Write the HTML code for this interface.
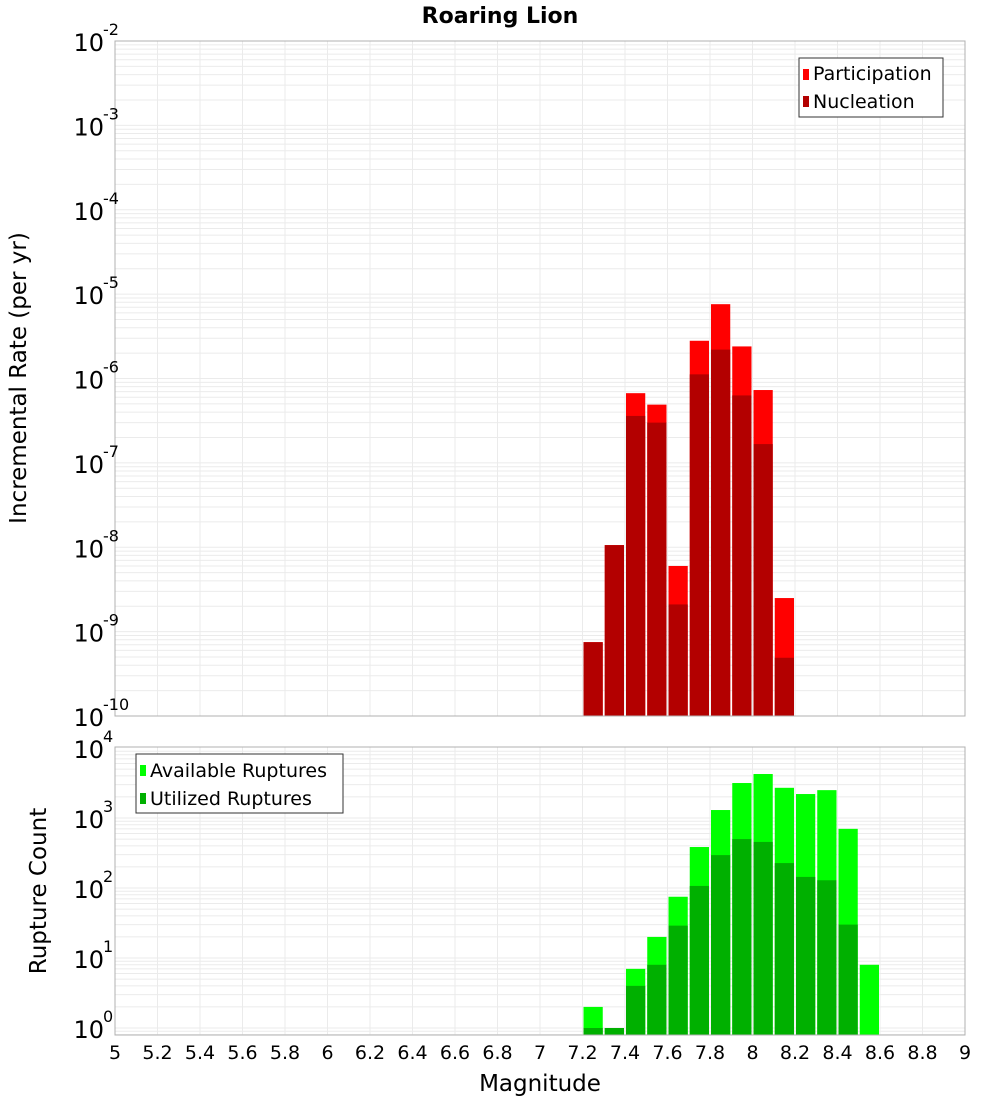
<!DOCTYPE html>
<html><head><meta charset="utf-8">
<style>
html,body{margin:0;padding:0;background:#fff;}
svg{display:block;font-family:"DejaVu Sans","Liberation Sans",sans-serif;}
</style></head>
<body>
<svg id="chart" width="1000" height="1100" viewBox="0 0 1000 1100" xmlns="http://www.w3.org/2000/svg">
<text x="500" y="23" text-anchor="middle" font-size="22" font-weight="bold">Roaring Lion</text>
<text transform="translate(26,378) rotate(-90)" text-anchor="middle" font-size="23">Incremental Rate (per yr)</text>
<text transform="translate(46,891) rotate(-90)" text-anchor="middle" font-size="23">Rupture Count</text>
<text x="540" y="1091" text-anchor="middle" font-size="23">Magnitude</text>
<g id="top"></g>
<g id="bot"></g>
<g id="xt"></g>
<g>
<rect x="799" y="58" width="144" height="59" fill="#fff" stroke="#333" stroke-width="1"/>
<rect x="803" y="69" width="6" height="11" fill="#ff0000"/>
<text x="813" y="80" font-size="19">Participation</text>
<rect x="803" y="96" width="6" height="11" fill="#b30000"/>
<text x="813" y="108" font-size="19">Nucleation</text>
</g>
<g>
<rect x="136" y="754" width="207" height="59" fill="#fff" stroke="#333" stroke-width="1"/>
<rect x="140" y="765" width="6" height="11" fill="#00ff00"/>
<text x="150" y="777" font-size="19">Available Ruptures</text>
<rect x="140" y="793" width="6" height="11" fill="#00b000"/>
<text x="150" y="805" font-size="19">Utilized Ruptures</text>
</g>
</svg>
<script>
const binCenters=[7.25,7.35,7.45,7.55,7.65,7.75,7.85,7.95,8.05,8.15];
const participation=[7.5e-10,1.06e-8,6.7e-7,4.9e-7,6.0e-9,2.8e-6,7.6e-6,2.4e-6,7.3e-7,2.5e-9];
const nucleation=[7.5e-10,1.06e-8,3.6e-7,3.0e-7,2.1e-9,1.12e-6,2.2e-6,6.3e-7,1.67e-7,4.9e-10];
const countCenters=[7.25,7.35,7.45,7.55,7.65,7.75,7.85,7.95,8.05,8.15,8.25,8.35,8.45,8.55];
const available=[2,1,7,20,75,385,1300,3160,4250,2700,2200,2500,700,8];
const utilized=[1,1,4,8,29,107,295,500,455,227,144,129,30,0];
const xTicks=[5,5.2,5.4,5.6,5.8,6,6.2,6.4,6.6,6.8,7,7.2,7.4,7.6,7.8,8,8.2,8.4,8.6,8.8,9];
const topExps=[-10,-9,-8,-7,-6,-5,-4,-3,-2];
const botExps=[0,1,2,3,4];

const NS="http://www.w3.org/2000/svg";
const X0=115,X1=965;
const xs=m=>X0+(m-5)/4*(X1-X0);
const T={top:41,bot:716,lmin:-10,lmax:-2};
const B={top:747,bot:1035,y0:1028,ppd:70};
const yT=v=>T.bot-(Math.log10(v)-T.lmin)/(T.lmax-T.lmin)*(T.bot-T.top);
const yB=v=>B.y0-Math.log10(v)*B.ppd;
function el(p,tag,a){const e=document.createElementNS(NS,tag);for(const k in a)e.setAttribute(k,a[k]);p.appendChild(e);return e;}

function panel(g,top,bot,yfn,lo,hi,name){
  el(g,'rect',{x:X0,y:top,width:X1-X0,height:bot-top,fill:'#fff'});
  for(let e=lo;e<=hi;e++)for(let k=1;k<10;k++){const y=yfn(k*Math.pow(10,e));if(y<top||y>bot)continue;
    const l=el(g,'line',{x1:X0,x2:X1,y1:y,y2:y,stroke:'#ebebeb','stroke-width':1});
    
    }
  xTicks.forEach(t=>{const x=xs(t);const l=el(g,'line',{x1:x,x2:x,y1:top,y2:bot,stroke:'#ebebeb','stroke-width':1});
    
    });
}
function bars(g,centers,vals,yfn,bot,fill,name){
  centers.forEach((c,i)=>{const v=vals[i];if(!(v>0))return;
    const x=xs(c-0.05)+1,w=xs(c+0.05)-xs(c-0.05)-2,y=yfn(v);
    const r=el(g,'rect',{x:x,y:y,width:w,height:bot-y,fill:fill});
    
    });
}
function ylabels(g,exps,yfn,name){
  exps.forEach(e=>{const y=yfn(Math.pow(10,e));
    const t=el(g,'text',{x:104,y:y+10,'text-anchor':'end','font-size':24});
    t.textContent='10';
    
    
    const s=el(g,'text',{x:103,y:y-6,'font-size':16});
    s.textContent=String(e);
    
    });
}
const gt=document.getElementById('top'),gb=document.getElementById('bot'),gx=document.getElementById('xt');
panel(gt,T.top,T.bot,yT,-10,-3,'top');
bars(gt,binCenters,participation,yT,T.bot,'#ff0000','participation-bar');
bars(gt,binCenters,nucleation,yT,T.bot,'#b30000','nucleation-bar');
el(gt,'rect',{x:X0,y:T.top,width:X1-X0,height:T.bot-T.top,fill:'none',stroke:'#b0b0b0','stroke-width':1});
ylabels(gt,topExps,yT,'top-y');
panel(gb,B.top,B.bot,yB,-1,3,'bottom');
bars(gb,countCenters,available,yB,B.bot,'#00ff00','available-bar');
bars(gb,countCenters,utilized,yB,B.bot,'#00b000','utilized-bar');
el(gb,'rect',{x:X0,y:B.top,width:X1-X0,height:B.bot-B.top,fill:'none',stroke:'#b0b0b0','stroke-width':1});
ylabels(gb,botExps,yB,'bottom-y');
xTicks.forEach(t=>{const tx=el(gx,'text',{x:xs(t),y:1059,'text-anchor':'middle','font-size':19});
  tx.textContent=String(t);
  
  });
</script>
</body></html>
